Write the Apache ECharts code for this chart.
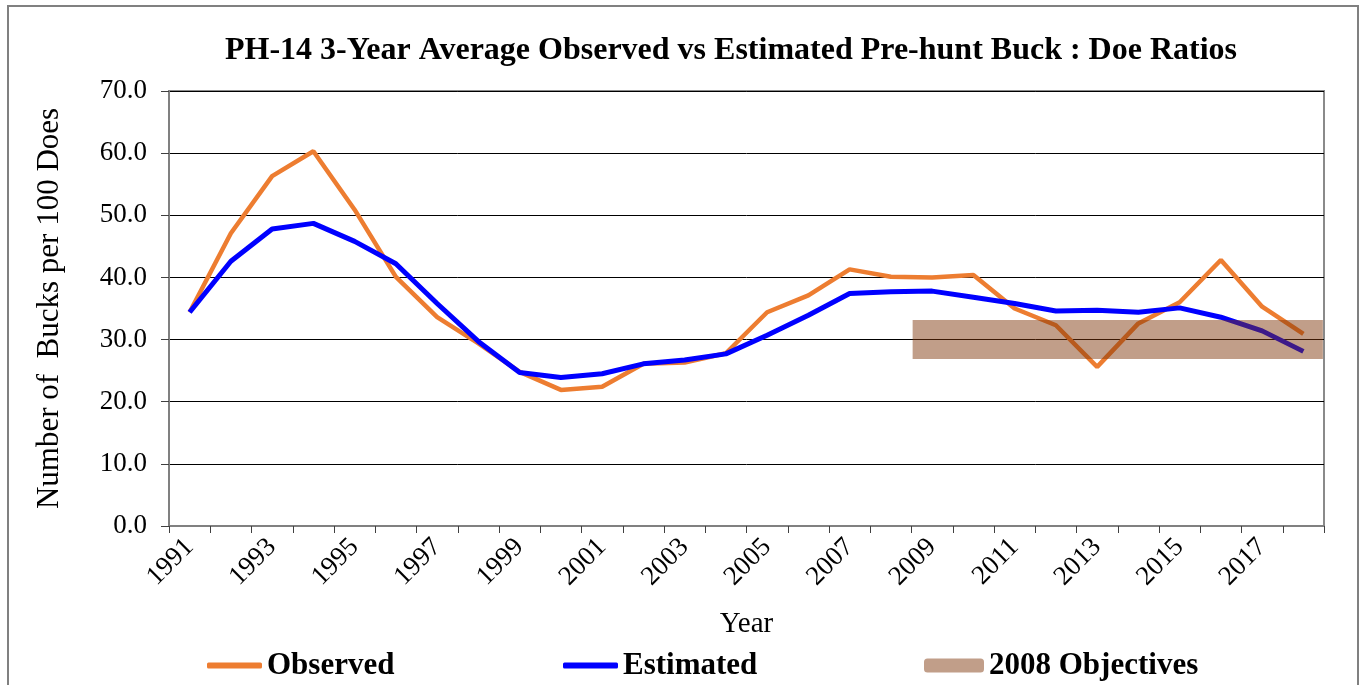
<!DOCTYPE html>
<html>
<head>
<meta charset="utf-8">
<script src="https://cdn.jsdelivr.net/npm/echarts@6/dist/echarts.min.js"></script>
<style>
  html, body { margin: 0; padding: 0; background: #fff; }
  #chart { width: 1362px; height: 685px; }
</style>
</head>
<body>
<div id="chart"></div>
<script>
// data
const years = ['1991', '1992', '1993', '1994', '1995', '1996', '1997', '1998', '1999', '2000',
  '2001', '2002', '2003', '2004', '2005', '2006', '2007', '2008', '2009', '2010',
  '2011', '2012', '2013', '2014', '2015', '2016', '2017', '2018'];
const observed = [34.4, 47.1, 56.3, 60.3, 50.9, 40.1, 33.6, 29.4, 24.8, 21.9,
  22.4, 26.1, 26.3, 27.8, 34.4, 37.1, 41.3, 40.1, 40.0, 40.4,
  35.0, 32.3, 25.6, 32.6, 36.0, 42.8, 35.3, 30.9];
const estimated = [34.4, 42.6, 47.8, 48.7, 45.8, 42.2, 35.8, 29.7, 24.7, 23.9,
  24.5, 26.1, 26.7, 27.7, 30.7, 33.9, 37.4, 37.7, 37.8, 36.8,
  35.8, 34.6, 34.7, 34.4, 35.1, 33.6, 31.4, 28.1];
// 2008 objective: 30 bucks per 100 does, shown from 2009 on
const objectiveYears = ['2009', '2010', '2011', '2012', '2013', '2014', '2015', '2016', '2017', '2018'];
const objectiveValue = 30;
const yTicks = { min: 0, max: 70, step: 10 };

const serif = '"Liberation Serif", "DejaVu Serif", serif';

let objective = years.map(y => objectiveYears.indexOf(y) >= 0 ? objectiveValue : null);

let myChart = echarts.init(document.getElementById('chart'));
myChart.setOption({
  animation: false,
  title: {
    text: 'PH-14 3-Year Average Observed vs Estimated Pre-hunt Buck : Doe Ratios',
    left: 726,
    top: 30,
    textAlign: 'center',
    textStyle: { fontFamily: serif, fontSize: 32, fontWeight: 'bold', color: '#000' }
  },
  graphic: [{
    type: 'rect',
    shape: { x: 8, y: 6, width: 1350, height: 700 },
    style: { fill: 'none', stroke: '#808080', lineWidth: 2 },
    silent: true
  }],
  grid: { left: 169, right: 38, top: 91, bottom: 159, show: true, borderColor: '#8a8a8a', borderWidth: 2 },
  legend: [
    { data: ['Observed'], left: 202, top: 645, itemWidth: 55, itemHeight: 6, icon: 'roundRect',
      textStyle: { fontFamily: serif, fontSize: 31, fontWeight: 'bold', color: '#000' } },
    { data: ['Estimated'], left: 558, top: 645, itemWidth: 55, itemHeight: 6, icon: 'roundRect',
      textStyle: { fontFamily: serif, fontSize: 31, fontWeight: 'bold', color: '#000' } },
    { data: ['2008 Objectives'], left: 919, top: 645, itemWidth: 60, itemHeight: 14, icon: 'roundRect',
      textStyle: { fontFamily: serif, fontSize: 31, fontWeight: 'bold', color: '#000' } }
  ],
  xAxis: {
    type: 'category',
    data: years,
    boundaryGap: true,
    name: 'Year',
    nameLocation: 'middle',
    nameGap: 84,
    nameTextStyle: { fontFamily: serif, fontSize: 29, color: '#000' },
    axisLine: { lineStyle: { color: '#808080', width: 2 } },
    axisTick: { show: true, interval: 0, length: 7, lineStyle: { color: '#404040' } },
    axisLabel: { interval: 1, rotate: 45, margin: 17, fontFamily: serif, fontSize: 27, color: '#000' },
    splitLine: { show: false }
  },
  yAxis: {
    type: 'value',
    min: yTicks.min,
    max: yTicks.max,
    interval: yTicks.step,
    name: 'Number of  Bucks per 100 Does',
    nameLocation: 'middle',
    nameGap: 104,
    nameRotate: 90,
    nameTextStyle: { fontFamily: serif, fontSize: 31, color: '#000' },
    axisLine: { show: true, lineStyle: { color: '#808080', width: 2 } },
    axisTick: { show: true, length: 8, lineStyle: { color: '#404040' } },
    axisLabel: { margin: 22, fontFamily: serif, fontSize: 27, color: '#000',
      formatter: v => v.toFixed(1) },
    splitLine: { show: true, lineStyle: { color: '#000', width: 1 } }
  },
  series: [
    {
      name: 'Observed',
      type: 'line',
      data: observed,
      symbol: 'none',
      color: '#ED7D31',
      lineStyle: { color: '#ED7D31', width: 4.5 }
    },
    {
      name: 'Estimated',
      type: 'line',
      data: estimated,
      symbol: 'none',
      color: '#0000FF',
      lineStyle: { color: '#0000FF', width: 5 }
    },
    {
      name: '2008 Objectives',
      type: 'line',
      data: objective,
      symbol: 'none',
      color: 'rgba(125, 52, 8, 0.48)',
      lineStyle: { color: 'rgba(125, 52, 8, 0.48)', width: 39, cap: 'square' }
    }
  ]
});
window.onresize = function () {
  myChart.resize();
};
</script>
</body>
</html>
